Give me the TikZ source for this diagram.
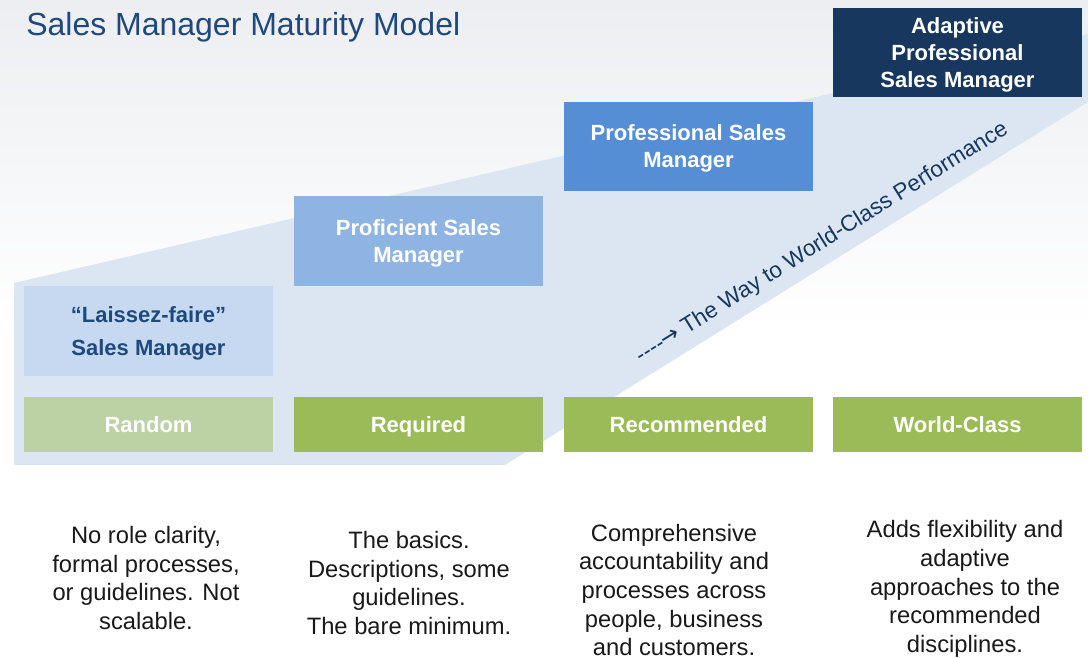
\documentclass[tikz,border=0pt]{standalone}
\usepackage{fontspec}
\setmainfont{Liberation Sans}
\newfontfamily\arrowfont{DejaVu Sans}
\definecolor{wedgeblue}{HTML}{DCE6F2}
\definecolor{titleblue}{HTML}{1F497D}
\definecolor{paleblue}{HTML}{C6D9F1}
\definecolor{midblue}{HTML}{8EB4E3}
\definecolor{brightblue}{HTML}{558ED5}
\definecolor{navy}{HTML}{17375E}
\definecolor{palegreen}{HTML}{BCD2A5}
\definecolor{leafgreen}{HTML}{9BBB59}
\definecolor{haze}{HTML}{ECEEF1}
\begin{document}
\begin{tikzpicture}[x=0.75pt,y=-0.75pt,
  tier/.style={minimum width=186.75pt, minimum height=67.5pt, inner sep=0pt, outer sep=0pt,
    text depth=0pt,
    align=center, text=white, font=\fontsize{16.5}{20.25}\selectfont\bfseries},
  level/.style={minimum width=186.75pt, minimum height=41.25pt, inner sep=0pt, outer sep=0pt,
    text height=11.8pt, text depth=0pt,
    align=center, text=white, fill=leafgreen, font=\fontsize{16.5}{20.25}\selectfont\bfseries},
  desc/.style={align=center, inner sep=0pt, text=black!90, font=\fontsize{17.8}{21.5}\selectfont}]
\useasboundingbox (0,0) rectangle (1088,659);
\fill[white] (0,0) rectangle (1088,659);
% faint backdrop fading out towards the middle
\shade[top color=haze, bottom color=white] (0,0) rectangle (1088,330);

% rising band behind the boxes
\fill[wedgeblue] (14,283) -- (1088,34) -- (1088,102) -- (505,465) -- (14,465) -- cycle;

% title
\node[anchor=base west, inner sep=0pt, text=titleblue, font=\fontsize{24}{28}\selectfont]
  (title) at (26,36) {Sales Manager Maturity Model};

% manager types
\node[tier, fill=paleblue, text=titleblue, font=\fontsize{16.5}{24.75}\selectfont\bfseries]
  (lf) at (148.5,331) {“Laissez-faire”\\Sales Manager};
\node[tier, fill=midblue] (prof) at (418.5,241) {Proficient Sales\\Manager};
\node[tier, fill=brightblue, minimum height=66.75pt] (pro) at (688.5,146.5) {Professional Sales\\Manager};
\node[tier, fill=navy, minimum height=66.75pt] (adp) at (957.5,52.5) {Adaptive\\Professional\\Sales Manager};

% maturity levels
\node[level, fill=palegreen] (rnd) at (148.5,424.5) {Random};
\node[level] (req) at (418.5,424.5) {Required};
\node[level] (rec) at (688.5,424.5) {Recommended};
\node[level] (wc) at (957.5,424.5) {World-Class};

% direction label along the band edge
\node[rotate=32, inner sep=0pt, text=navy, font=\fontsize{17}{20}\selectfont]
  (way) at (822,243) {-\kern0pt-\kern0pt-\kern0pt-\kern-1pt{\arrowfont →} The Way to World-Class Performance};

% descriptions
\node[desc] (d1) at (146,578) {No role clarity,\\formal processes,\\or guidelines. Not\\scalable.};
\node[desc] (d2) at (409,583) {The basics.\\Descriptions, some\\guidelines.\\The bare minimum.};
\node[desc] (d3) at (674,590) {Comprehensive\\accountability and\\processes across\\people, business\\and customers.};
\node[desc] (d4) at (965,589) {Adds flexibility and\\adaptive\\approaches to the\\recommended\\disciplines.};
\end{tikzpicture}
\end{document}
